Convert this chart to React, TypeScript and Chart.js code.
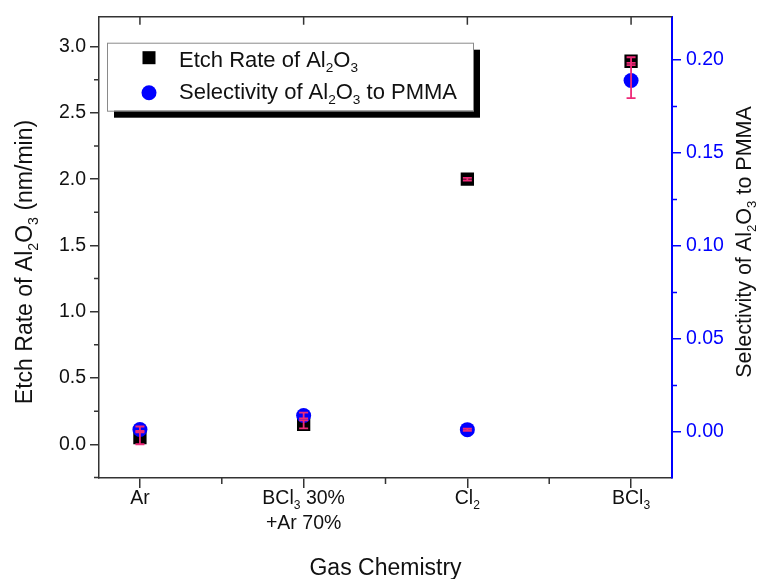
import React, { useEffect, useRef } from "react";
import { Chart, registerables } from "chart.js";

Chart.register(...registerables);

const FONT = "'Liberation Sans', Arial, Helvetica, sans-serif";
const AXIS = "#333333";
const BLUE = "#0000ff";
const ERR = "#ee2a78";

// ---- data ----
const categories: string[][] = [["Ar"], ["BCl_{3} 30%", "+Ar 70%"], ["Cl_{2}"], ["BCl_{3}"]];
const etchRate = [0.05, 0.15, 2.0, 2.89];
const etchRateErr = [0.05, 0.03, 0.01, 0.03];
const selectivity = [0.0013, 0.0088, 0.0012, 0.189];
const selectivityErr = [0.0016, 0.0016, 0.0006, 0.0095];
const seriesNames = ["Etch Rate of Al_{2}O_{3}", "Selectivity of Al_{2}O_{3} to PMMA"];
const xTitle = "Gas Chemistry";
const yTitle = "Etch Rate of Al_{2}O_{3} (nm/min)";
const y2Title = "Selectivity of Al_{2}O_{3} to PMMA";
const yRange = [-0.2545, 3.226];
const y2Range = [-0.0248, 0.2233];
const xRange = [-0.25, 3.25];
const yStep = 0.5;
const y2Step = 0.05;

type Part = { t: string; sub: boolean };
function parseRich(s: string): Part[] {
  const out: Part[] = [];
  const re = /_\{([^}]*)\}/g;
  let last = 0;
  let m: RegExpExecArray | null;
  while ((m = re.exec(s))) {
    if (m.index > last) out.push({ t: s.slice(last, m.index), sub: false });
    out.push({ t: m[1], sub: true });
    last = re.lastIndex;
  }
  if (last < s.length) out.push({ t: s.slice(last), sub: false });
  return out;
}

function drawRich(ctx: CanvasRenderingContext2D, s: string, x: number, y: number, size: number, align: string, color: string) {
  const parts = parseRich(s);
  const subSize = size * 0.62;
  const widths = parts.map((p) => {
    ctx.font = `${p.sub ? subSize : size}px ${FONT}`;
    return ctx.measureText(p.t).width;
  });
  const total = widths.reduce((a, b) => a + b, 0);
  let cx = align === "left" ? x : align === "center" ? x - total / 2 : x - total;
  ctx.fillStyle = color;
  ctx.textAlign = "left";
  ctx.textBaseline = "alphabetic";
  parts.forEach((p, i) => {
    ctx.font = `${p.sub ? subSize : size}px ${FONT}`;
    ctx.fillText(p.t, cx, y + (p.sub ? size * 0.24 : 0));
    cx += widths[i];
  });
}

const decorPlugin = {
  id: "decor",
  afterDatasetsDraw(chart: any) {
    const ctx: CanvasRenderingContext2D = chart.ctx;
    const xs = chart.scales.x;
    const sets = [
      { vals: etchRate, errs: etchRateErr, scale: chart.scales.y },
      { vals: selectivity, errs: selectivityErr, scale: chart.scales.y1 },
    ];
    ctx.save();
    ctx.strokeStyle = ERR;
    ctx.lineWidth = 1.8;
    sets.forEach((s) => {
      s.vals.forEach((v, i) => {
        const px = xs.getPixelForValue(i);
        const top = s.scale.getPixelForValue(v + s.errs[i]);
        const bot = s.scale.getPixelForValue(v - s.errs[i]);
        ctx.beginPath();
        ctx.moveTo(px, top);
        ctx.lineTo(px, bot);
        ctx.moveTo(px - 4.5, top);
        ctx.lineTo(px + 4.5, top);
        ctx.moveTo(px - 4.5, bot);
        ctx.lineTo(px + 4.5, bot);
        ctx.stroke();
      });
    });
    ctx.restore();
  },
  afterDraw(chart: any) {
    const ctx: CanvasRenderingContext2D = chart.ctx;
    const { left, right, top, bottom } = chart.chartArea;
    const xs = chart.scales.x;
    const ys = chart.scales.y;
    const y2 = chart.scales.y1;
    ctx.save();
    // top border with inward ticks
    ctx.strokeStyle = AXIS;
    ctx.lineWidth = 1.5;
    ctx.beginPath();
    ctx.moveTo(left, top);
    ctx.lineTo(right, top);
    xs.ticks.forEach((t: any) => {
      const px = xs.getPixelForValue(t.value);
      ctx.moveTo(px, top);
      ctx.lineTo(px, top + 8);
    });
    ctx.stroke();
    // minor ticks
    const minor = (scale: any) => {
      const vals: number[] = [];
      const tk = scale.ticks.map((t: any) => t.value);
      for (let i = 0; i < tk.length - 1; i++) vals.push((tk[i] + tk[i + 1]) / 2);
      if (tk.length > 1) {
        const h = (tk[1] - tk[0]) / 2;
        if (tk[0] - h >= scale.min) vals.push(tk[0] - h);
        if (tk[tk.length - 1] + h <= scale.max) vals.push(tk[tk.length - 1] + h);
      }
      return vals;
    };
    ctx.beginPath();
    minor(xs).forEach((v) => {
      const px = xs.getPixelForValue(v);
      ctx.moveTo(px, bottom);
      ctx.lineTo(px, bottom + 6);
    });
    minor(ys).forEach((v) => {
      const py = ys.getPixelForValue(v);
      ctx.moveTo(left, py);
      ctx.lineTo(left - 5, py);
    });
    ctx.stroke();
    ctx.strokeStyle = BLUE;
    ctx.beginPath();
    minor(y2).forEach((v) => {
      const py = y2.getPixelForValue(v);
      ctx.moveTo(right, py);
      ctx.lineTo(right + 5, py);
    });
    ctx.stroke();

    // category labels
    categories.forEach((lines, i) => {
      const px = xs.getPixelForValue(i);
      lines.forEach((ln, j) => {
        drawRich(ctx, ln, px, bottom + 26 + j * 25, 19.5, "center", "#111");
      });
    });
    // x title
    drawRich(ctx, xTitle, (left + right) / 2, bottom + 97, 23, "center", "#111");
    // y title
    ctx.save();
    ctx.translate(32, 262);
    ctx.rotate(-Math.PI / 2);
    drawRich(ctx, yTitle, 0, 0, 23, "center", "#111");
    ctx.restore();
    // y2 title
    ctx.save();
    ctx.translate(751, 242);
    ctx.rotate(-Math.PI / 2);
    drawRich(ctx, y2Title, 0, 0, 21.5, "center", "#111");
    ctx.restore();

    // legend
    const bx = left + 8;
    const by = top + 26;
    const bw = 366;
    const bh = 68;
    ctx.fillStyle = "#000";
    ctx.fillRect(bx + 7, by + 7, bw, bh);
    ctx.fillStyle = "#fff";
    ctx.fillRect(bx, by, bw, bh);
    ctx.strokeStyle = "#8a8a8a";
    ctx.lineWidth = 1;
    ctx.strokeRect(bx + 0.5, by + 0.5, bw, bh);
    const mx = bx + 42;
    ctx.fillStyle = "#000";
    ctx.fillRect(mx - 6.5, by + 15 - 6.5, 13, 13);
    ctx.fillStyle = BLUE;
    ctx.beginPath();
    ctx.arc(mx, by + 50, 7.5, 0, Math.PI * 2);
    ctx.fill();
    drawRich(ctx, seriesNames[0], bx + 72, by + 24, 22, "left", "#111");
    drawRich(ctx, seriesNames[1], bx + 72, by + 56, 22, "left", "#111");
    ctx.restore();
  },
};

export default function App() {
  const ref = useRef<HTMLCanvasElement | null>(null);
  useEffect(() => {
    if (!ref.current) return;
    const chart = new Chart(ref.current, {
      type: "scatter",
      data: {
        datasets: [
          {
            label: seriesNames[1],
            data: selectivity.map((v, i) => ({ x: i, y: v })),
            yAxisID: "y1",
            pointStyle: "circle",
            pointRadius: 7.5,
            pointBackgroundColor: BLUE,
            pointBorderColor: BLUE,
            pointBorderWidth: 0,
            order: 0,
          },
          {
            label: seriesNames[0],
            data: etchRate.map((v, i) => ({ x: i, y: v })),
            yAxisID: "y",
            pointStyle: "rect",
            pointRadius: 9.4,
            pointBackgroundColor: "#000",
            pointBorderColor: "#000",
            pointBorderWidth: 0,
            order: 1,
          },
        ],
      },
      options: {
        animation: false,
        responsive: false,
        layout: { padding: { top: 13, left: 0, right: 0, bottom: 0 } },
        plugins: { legend: { display: false }, tooltip: { enabled: false } },
        scales: {
          x: {
            type: "linear",
            position: "bottom",
            min: xRange[0],
            max: xRange[1],
            afterFit: (s: any) => {
              s.height = 101;
            },
            ticks: { stepSize: 1, includeBounds: false, display: false },
            grid: { display: true, drawOnChartArea: false, drawTicks: true, tickLength: 10, color: AXIS, lineWidth: 1.5 },
            border: { display: true, color: AXIS, width: 1.5 },
          },
          y: {
            type: "linear",
            position: "left",
            min: yRange[0],
            max: yRange[1],
            afterFit: (s: any) => {
              s.width = 99;
            },
            ticks: {
              stepSize: yStep,
              includeBounds: false,
              padding: 4,
              color: "#111",
              font: { family: FONT, size: 19.5 },
              callback: (v: any) => Number(v).toFixed(1),
            },
            grid: { display: true, drawOnChartArea: false, drawTicks: true, tickLength: 9, color: AXIS, lineWidth: 1.5 },
            border: { display: true, color: AXIS, width: 1.5 },
          },
          y1: {
            type: "linear",
            position: "right",
            min: y2Range[0],
            max: y2Range[1],
            afterFit: (s: any) => {
              s.width = 93;
            },
            ticks: {
              stepSize: y2Step,
              includeBounds: false,
              padding: 5,
              color: BLUE,
              font: { family: FONT, size: 19.5 },
              callback: (v: any) => Number(v).toFixed(2),
            },
            grid: { display: true, drawOnChartArea: false, drawTicks: true, tickLength: 9, color: BLUE, lineWidth: 1.5 },
            border: { display: true, color: BLUE, width: 2 },
          },
        },
      },
      plugins: [decorPlugin],
    } as any);
    return () => chart.destroy();
  }, []);
  return (
    <canvas
      ref={ref}
      width={765}
      height={579}
      style={{ position: "absolute", left: 0, top: 0, width: 765, height: 579, background: "#fff" }}
    />
  );
}
